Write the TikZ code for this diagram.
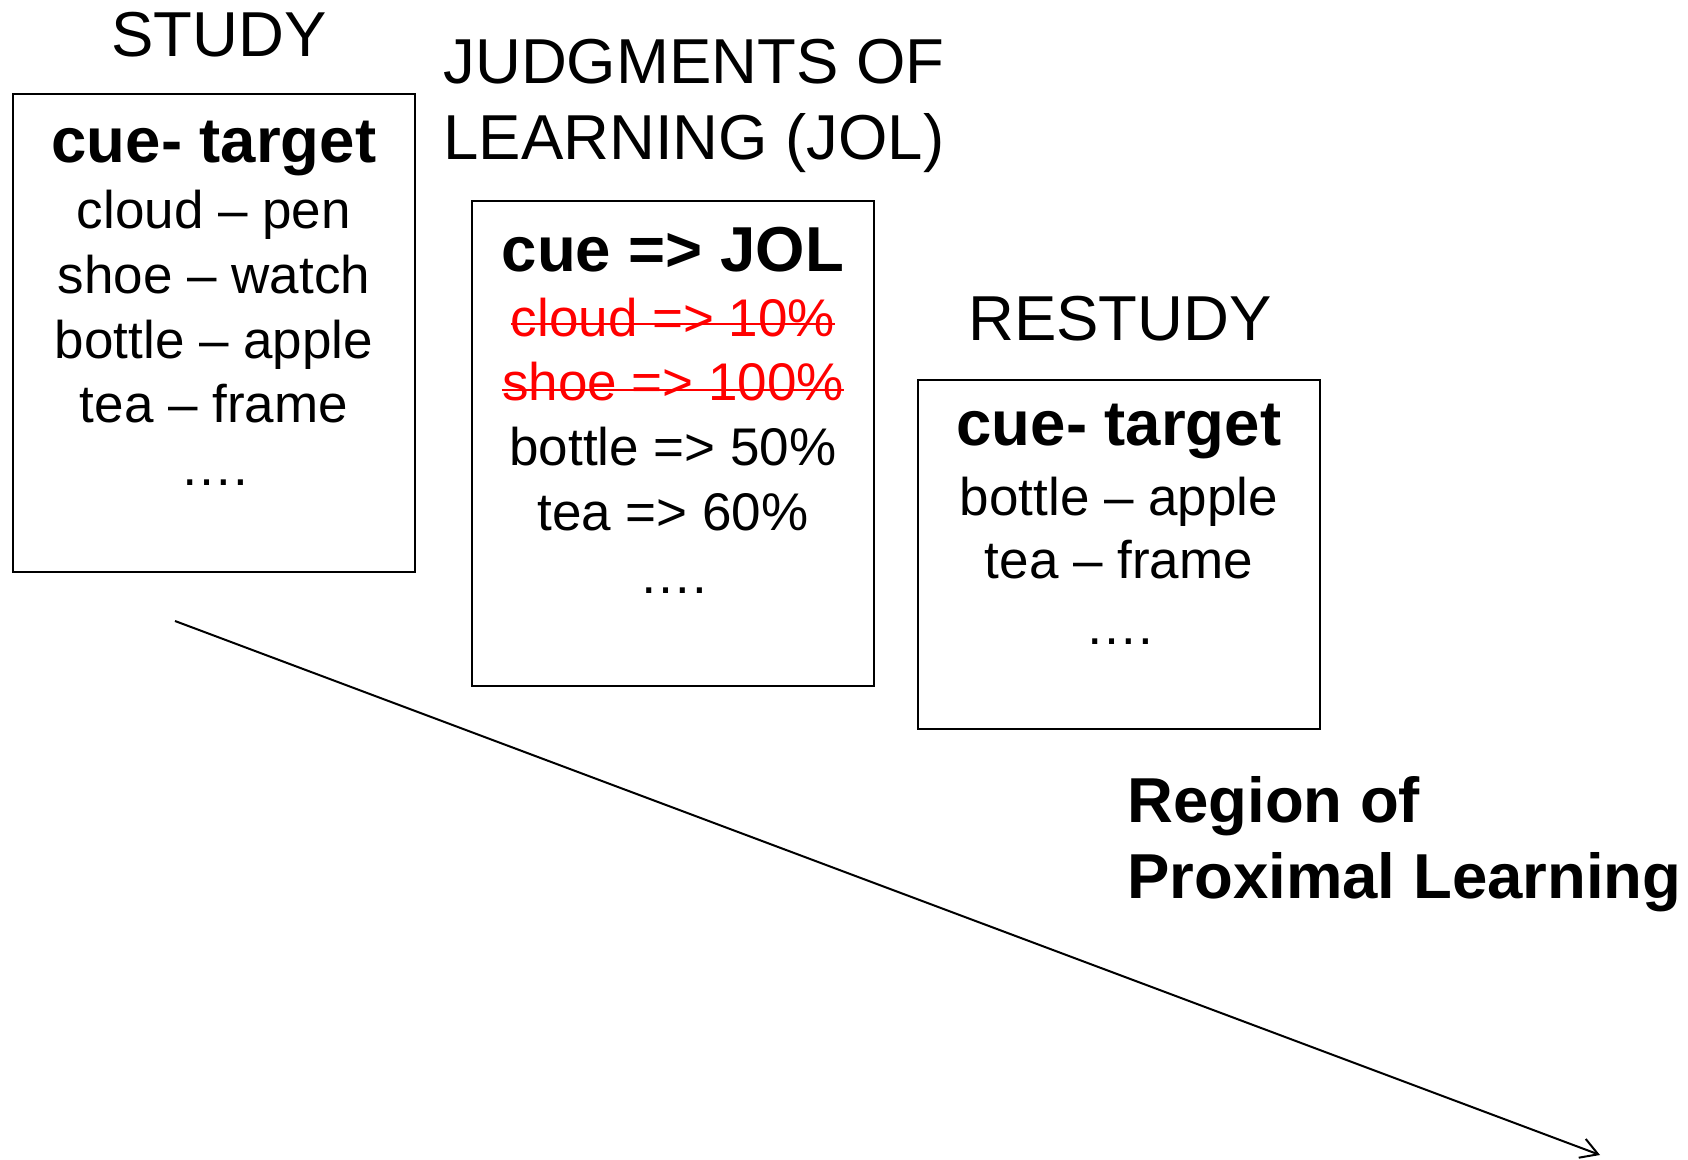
\documentclass[tikz,border=0pt]{standalone}
\usepackage{fontspec}
\setmainfont{Liberation Sans}
\usetikzlibrary{arrows.meta}
\begin{document}
\begin{tikzpicture}[x=0.5pt,y=-0.5pt,
  title/.style={font=\fontsize{31.75}{38}\selectfont, inner sep=0pt},
  boxhead/.style={font=\fontsize{31.75}{38}\selectfont\bfseries, inner sep=0pt, anchor=base},
  item/.style={font=\fontsize{26.5}{32}\selectfont, inner sep=0pt, anchor=base},
  gone/.style={item, text=red},
  strike/.style={red, line width=0.9pt},
  frame/.style={draw=black, line width=0.8pt},
  trend/.style={line width=1pt, -{Straight Barb[length=8.5pt,width=10pt,line width=1pt]}}]
\useasboundingbox (0,0) rectangle (1688,1160);

% phase headings
\node[title, anchor=base] (hstudy) at (219,57) {STUDY};
\node[title, anchor=base west] (hjol1) at (443,84) {JUDGMENTS OF};
\node[title, anchor=base west] (hjol2) at (443,160) {LEARNING (JOL)};
\node[title, anchor=base] (hrestudy) at (1120,341) {RESTUDY};

% study list
\draw[frame] (13,94) rectangle (415,572);
\node[boxhead] (s0) at (214,163) {cue- target};
\node[item] (s1) at (214,229) {cloud – pen};
\node[item] (s2) at (214,294) {shoe – watch};
\node[item] (s3) at (214,359) {bottle – apple};
\node[item] (s4) at (214,423) {tea – frame};
\node[item] (s5) at (214,486) {….};

% judgments of learning
\draw[frame] (472,201) rectangle (874,686);
\node[boxhead] (j0) at (673,272) {cue => JOL};
\node[gone] (j1) at (673,337) {cloud => 10\%};
\node[gone] (j2) at (673,401) {shoe => 100\%};
\node[item] (j3) at (673,466) {bottle => 50\%};
\node[item] (j4) at (673,531) {tea => 60\%};
\node[item] (j5) at (673,594) {….};
\draw[strike] ([yshift=6.5pt]j1.base west) -- ([yshift=6.5pt]j1.base east);
\draw[strike] ([yshift=5.5pt]j2.base west) -- ([yshift=5.5pt]j2.base east);

% restudy list
\draw[frame] (918,380) rectangle (1320,729);
\node[boxhead] (r0) at (1119,446) {cue- target};
\node[item] (r1) at (1119,516) {bottle – apple};
\node[item] (r2) at (1119,579) {tea – frame};
\node[item] (r3) at (1119,645) {….};

% region label
\node[boxhead, anchor=base west] (reg1) at (1127,822) {Region of};
\node[boxhead, anchor=base west] (reg2) at (1127,898) {Proximal Learning};

% trend arrow
\coordinate (tstart) at (175,621);
\coordinate (tend) at (1600,1155);
\draw[trend] (tstart) -- (tend);
\end{tikzpicture}
\end{document}
